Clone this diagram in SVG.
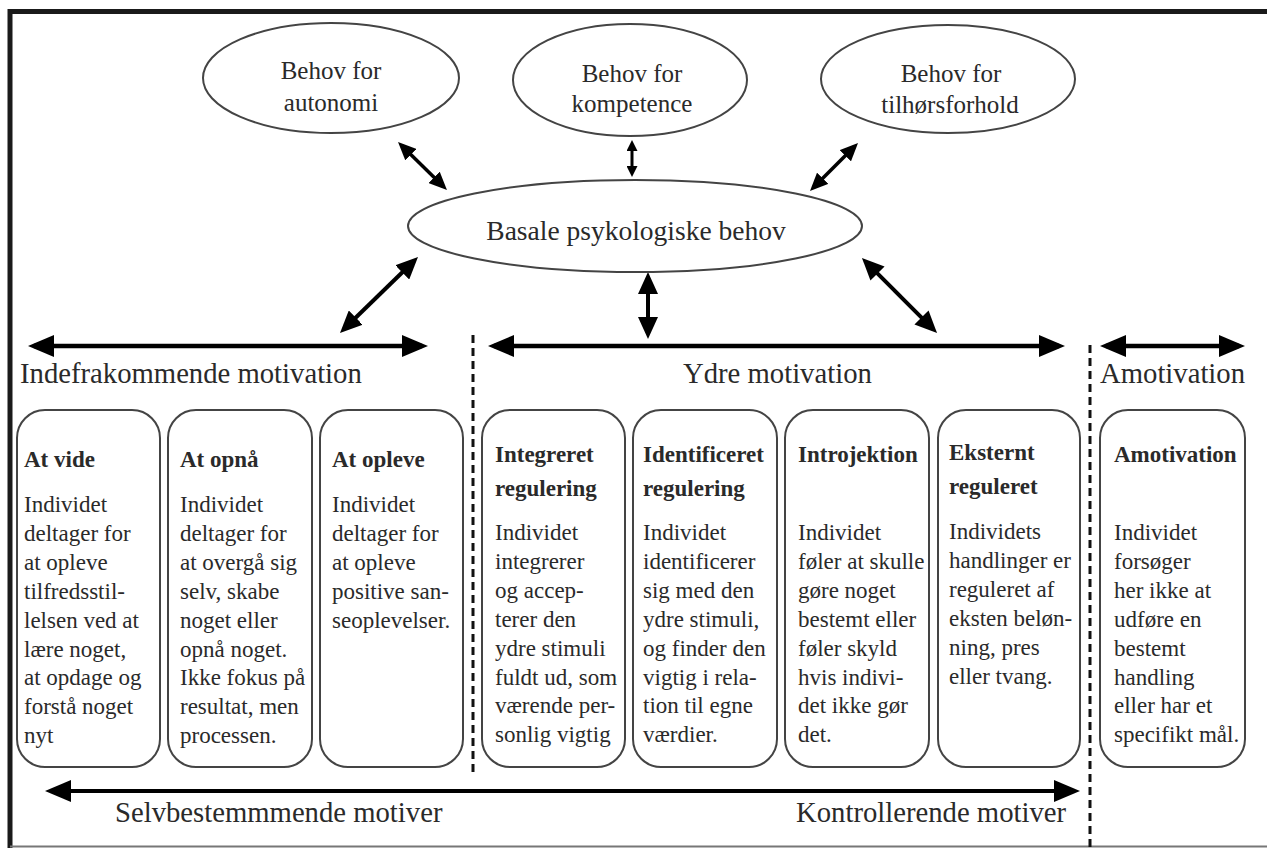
<svg xmlns="http://www.w3.org/2000/svg" width="1267" height="848" viewBox="0 0 1267 848">
<defs>
<style>
text{font-family:"Liberation Serif","Times New Roman",serif;fill:#2a2a2a}
.ell{fill:#fff;stroke:#444;stroke-width:2}
.box{fill:#fff;stroke:#444;stroke-width:2}
.et{font-size:25px;text-anchor:middle}
.lbl{font-size:28.7px}
.tt{font-size:23px;font-weight:bold}
.bt{font-size:23px}
.arr{stroke:#000;fill:none}
.dash{stroke:#111;stroke-width:3;stroke-dasharray:8 5;fill:none}
</style>
<marker id="hbig" markerUnits="userSpaceOnUse" markerWidth="26" markerHeight="22" viewBox="0 0 26 22" refX="20" refY="11" orient="auto-start-reverse"><path d="M0,0 L26,11 L0,22 z" fill="#000"/></marker>
<marker id="dbig" markerUnits="userSpaceOnUse" markerWidth="22" markerHeight="20" viewBox="0 0 22 20" refX="16" refY="10" orient="auto-start-reverse"><path d="M0,0 L22,10 L0,20 z" fill="#000"/></marker>
<marker id="dsmall" markerUnits="userSpaceOnUse" markerWidth="18" markerHeight="16" viewBox="0 0 18 16" refX="13" refY="8" orient="auto-start-reverse"><path d="M0,0 L18,8 L0,16 z" fill="#000"/></marker>
<marker id="tiny" markerUnits="userSpaceOnUse" markerWidth="11" markerHeight="11" viewBox="0 0 11 11" refX="7" refY="5.5" orient="auto-start-reverse"><path d="M0,0 L11,5.5 L0,11 z" fill="#000"/></marker>
</defs>
<rect width="1267" height="848" fill="#fff"/>
<g id="frame">
<path d="M10,848 L10,11.5 L1267,11.5" fill="none" stroke="#1a1a1a" stroke-width="5"/>
<line x1="10" y1="846.5" x2="1267" y2="846.5" stroke="#777" stroke-width="2"/>
</g>
<g id="dividers">
<line class="dash" x1="473" y1="335" x2="473" y2="777"/>
<line class="dash" x1="1090" y1="345" x2="1090" y2="848"/>
</g>
<g id="connectors">
<line class="arr" stroke-width="3.5" x1="401.6" y1="145.5" x2="443.4" y2="186.5" marker-start="url(#dsmall)" marker-end="url(#dsmall)"/>
<line class="arr" stroke-width="3" x1="632" y1="144" x2="632" y2="173" marker-start="url(#tiny)" marker-end="url(#tiny)"/>
<line class="arr" stroke-width="3.5" x1="854.5" y1="146.5" x2="813.5" y2="187.5" marker-start="url(#dsmall)" marker-end="url(#dsmall)"/>
<line class="arr" stroke-width="4" x1="413.7" y1="261.2" x2="344.3" y2="328.8" marker-start="url(#dbig)" marker-end="url(#dbig)"/>
<line class="arr" stroke-width="4" x1="648" y1="278" x2="648" y2="333" marker-start="url(#dbig)" marker-end="url(#dbig)"/>
<line class="arr" stroke-width="4" x1="866.2" y1="262.2" x2="932.8" y2="328.8" marker-start="url(#dbig)" marker-end="url(#dbig)"/>
<line class="arr" stroke-width="4.5" x1="34" y1="346" x2="422" y2="346" marker-start="url(#hbig)" marker-end="url(#hbig)"/>
<line class="arr" stroke-width="4.5" x1="494" y1="346" x2="1059" y2="346" marker-start="url(#hbig)" marker-end="url(#hbig)"/>
<line class="arr" stroke-width="4.5" x1="1106" y1="346" x2="1239" y2="346" marker-start="url(#hbig)" marker-end="url(#hbig)"/>
<line class="arr" stroke-width="4" x1="51" y1="791" x2="1074" y2="791" marker-start="url(#hbig)" marker-end="url(#hbig)"/>
</g>
<g id="autonomi">
<ellipse class="ell" cx="331" cy="78" rx="128" ry="55"/>
<text class="et" x="331" y="79">Behov for</text>
<text class="et" x="331" y="111">autonomi</text>
</g>
<g id="kompetence">
<ellipse class="ell" cx="630" cy="80" rx="117" ry="56"/>
<text class="et" x="632" y="82">Behov for</text>
<text class="et" x="632" y="112">kompetence</text>
</g>
<g id="tilhoersforhold">
<ellipse class="ell" cx="948" cy="79" rx="127" ry="54"/>
<text class="et" x="951" y="82">Behov for</text>
<text class="et" x="950" y="113">tilhørsforhold</text>
</g>
<g id="basale">
<ellipse class="ell" cx="635" cy="226" rx="227" ry="46"/>
<text class="et" style="font-size:27.5px" x="636" y="240">Basale psykologiske behov</text>
</g>
<g id="labels">
<text class="lbl" x="20" y="383">Indefrakommende motivation</text>
<text class="lbl" x="683" y="383">Ydre motivation</text>
<text class="lbl" x="1100" y="383">Amotivation</text>
<text class="lbl" x="115" y="822">Selvbestemmmende motiver</text>
<text class="lbl" x="796" y="822">Kontrollerende motiver</text>
</g>
<g id="at-vide">
<rect class="box" x="17" y="410" width="143" height="357" rx="28"/>
<text class="tt" x="24" y="467">At vide</text>
<text class="bt" x="24" y="512"><tspan x="24">Individet</tspan><tspan x="24" dy="28.9">deltager for</tspan><tspan x="24" dy="28.9">at opleve</tspan><tspan x="24" dy="28.9">tilfredsstil-</tspan><tspan x="24" dy="28.9">lelsen ved at</tspan><tspan x="24" dy="28.9">lære noget,</tspan><tspan x="24" dy="28.9">at opdage og</tspan><tspan x="24" dy="28.9">forstå noget</tspan><tspan x="24" dy="28.9">nyt</tspan></text>
</g>
<g id="at-opnaa">
<rect class="box" x="168" y="410" width="144" height="357" rx="28"/>
<text class="tt" x="180" y="467">At opnå</text>
<text class="bt" x="180" y="512"><tspan x="180">Individet</tspan><tspan x="180" dy="28.9">deltager for</tspan><tspan x="180" dy="28.9">at overgå sig</tspan><tspan x="180" dy="28.9">selv, skabe</tspan><tspan x="180" dy="28.9">noget eller</tspan><tspan x="180" dy="28.9">opnå noget.</tspan><tspan x="180" dy="28.9">Ikke fokus på</tspan><tspan x="180" dy="28.9">resultat, men</tspan><tspan x="180" dy="28.9">processen.</tspan></text>
</g>
<g id="at-opleve">
<rect class="box" x="320" y="410" width="143" height="357" rx="28"/>
<text class="tt" x="332" y="467">At opleve</text>
<text class="bt" x="332" y="512"><tspan x="332">Individet</tspan><tspan x="332" dy="28.9">deltager for</tspan><tspan x="332" dy="28.9">at opleve</tspan><tspan x="332" dy="28.9">positive san-</tspan><tspan x="332" dy="28.9">seoplevelser.</tspan></text>
</g>
<g id="integreret">
<rect class="box" x="482" y="410" width="143" height="357" rx="28"/>
<text class="tt" x="495" y="462"><tspan x="495">Integreret</tspan><tspan x="495" dy="34">regulering</tspan></text>
<text class="bt" x="495" y="540"><tspan x="495">Individet</tspan><tspan x="495" dy="28.9">integrerer</tspan><tspan x="495" dy="28.9">og accep-</tspan><tspan x="495" dy="28.9">terer den</tspan><tspan x="495" dy="28.9">ydre stimuli</tspan><tspan x="495" dy="28.9">fuldt ud, som</tspan><tspan x="495" dy="28.9">værende per-</tspan><tspan x="495" dy="28.9">sonlig vigtig</tspan></text>
</g>
<g id="identificeret">
<rect class="box" x="633" y="410" width="144" height="357" rx="28"/>
<text class="tt" x="643" y="462"><tspan x="643">Identificeret</tspan><tspan x="643" dy="34">regulering</tspan></text>
<text class="bt" x="643" y="540"><tspan x="643">Individet</tspan><tspan x="643" dy="28.9">identificerer</tspan><tspan x="643" dy="28.9">sig med den</tspan><tspan x="643" dy="28.9">ydre stimuli,</tspan><tspan x="643" dy="28.9">og finder den</tspan><tspan x="643" dy="28.9">vigtig i rela-</tspan><tspan x="643" dy="28.9">tion til egne</tspan><tspan x="643" dy="28.9">værdier.</tspan></text>
</g>
<g id="introjektion">
<rect class="box" x="785" y="410" width="144" height="357" rx="28"/>
<text class="tt" x="798" y="462">Introjektion</text>
<text class="bt" x="798" y="540"><tspan x="798">Individet</tspan><tspan x="798" dy="28.9">føler at skulle</tspan><tspan x="798" dy="28.9">gøre noget</tspan><tspan x="798" dy="28.9">bestemt eller</tspan><tspan x="798" dy="28.9">føler skyld</tspan><tspan x="798" dy="28.9">hvis indivi-</tspan><tspan x="798" dy="28.9">det ikke gør</tspan><tspan x="798" dy="28.9">det.</tspan></text>
</g>
<g id="eksternt">
<rect class="box" x="938" y="410" width="142" height="357" rx="28"/>
<text class="tt" x="949" y="460"><tspan x="949">Eksternt</tspan><tspan x="949" dy="34">reguleret</tspan></text>
<text class="bt" x="949" y="539"><tspan x="949">Individets</tspan><tspan x="949" dy="28.9">handlinger er</tspan><tspan x="949" dy="28.9">reguleret af</tspan><tspan x="949" dy="28.9">eksten beløn-</tspan><tspan x="949" dy="28.9">ning, pres</tspan><tspan x="949" dy="28.9">eller tvang.</tspan></text>
</g>
<g id="amotivation">
<rect class="box" x="1100" y="410" width="145" height="357" rx="28"/>
<text class="tt" x="1114" y="462">Amotivation</text>
<text class="bt" x="1114" y="540"><tspan x="1114">Individet</tspan><tspan x="1114" dy="28.9">forsøger</tspan><tspan x="1114" dy="28.9">her ikke at</tspan><tspan x="1114" dy="28.9">udføre en</tspan><tspan x="1114" dy="28.9">bestemt</tspan><tspan x="1114" dy="28.9">handling</tspan><tspan x="1114" dy="28.9">eller har et</tspan><tspan x="1114" dy="28.9">specifikt mål.</tspan></text>
</g>
</svg>
